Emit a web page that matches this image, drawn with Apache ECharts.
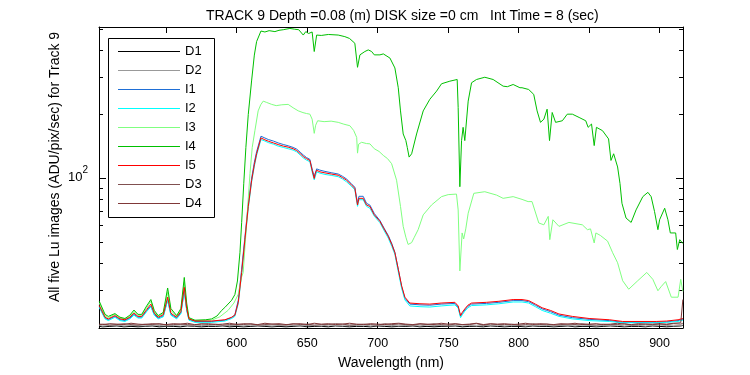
<!DOCTYPE html>
<html>
<head>
<meta charset="utf-8">
<script src="https://cdn.jsdelivr.net/npm/echarts@6/dist/echarts.min.js"></script>
<style>
html,body{margin:0;padding:0;background:#fff}
#main{width:750px;height:375px}
</style>
</head>
<body>
<div id="main"></div>
<script>
// axis ticks
const xTicks = [550, 600, 650, 700, 750, 800, 850, 900];
const yMinorTicks = [30, 40, 50, 60, 70, 80, 90, 200, 300, 400, 500];
const yMajorTicks = [100];

const seriesNames = ['D1', 'D2', 'I1', 'I2', 'I3', 'I4', 'I5', 'D3', 'D4'];
const seriesColors = ['#000000', '#999999', '#1f6fd6', '#00ffff', '#80ff80', '#00c000', '#ff0000', '#805050', '#803838'];

// dark frames share one wavelength grid
const dWl = [502.5, 505, 510, 515, 520, 525, 530, 535, 540, 545, 550,
  555, 560, 565, 570, 575, 580, 585, 590, 595, 600,
  605, 610, 615, 620, 625, 630, 635, 640, 645, 650,
  655, 660, 665, 670, 675, 680, 685, 690, 695, 700,
  705, 710, 715, 720, 725, 730, 735, 740, 745, 750,
  755, 760, 765, 770, 775, 780, 785, 790, 795, 800,
  805, 810, 815, 820, 825, 830, 835, 840, 845, 850,
  855, 860, 865, 870, 875, 880, 885, 890, 895, 900,
  905, 910, 915, 916.5];

const d1 = [20.2,20.1,20.2,20.3,20.1,20.2,20.1,20.2,20.3,20.1,
  20.2,20.2,20.1,20.3,20.2,20.1,20.2,20.2,20.3,20.1,
  20.2,20.1,20.2,20.3,20.2,20.1,20.2,20.1,20.2,20.3,
  20.1,20.2,20.2,20.1,20.3,20.2,20.1,20.2,20.2,20.1,
  20.3,20.2,20.1,20.2,20.2,20.3,20.1,20.2,20.1,20.2,
  20.2,20.3,20.1,20.2,20.2,20.1,20.3,20.2,20.1,20.2,
  20.2,20.1,20.3,20.2,20.2,20.1,20.2,20.3,20.1,20.2,
  20.2,20.1,20.2,20.3,20.2,20.1,20.2,20.2,20.1,20.3,
  20.2,20.1,20.2,20.3,20.4];
const d2 = [20.4,20.3,20.4,20.5,20.3,20.4,20.4,20.3,20.5,20.4,
  20.3,20.4,20.5,20.4,20.3,20.4,20.4,20.5,20.3,20.4,
  20.4,20.3,20.5,20.4,20.4,20.3,20.4,20.5,20.4,20.3,
  20.4,20.4,20.3,20.5,20.4,20.3,20.4,20.4,20.5,20.3,
  20.4,20.5,20.4,20.3,20.4,20.4,20.3,20.5,20.4,20.4,
  20.3,20.4,20.5,20.4,20.3,20.4,20.4,20.5,20.3,20.4,
  20.4,20.3,20.4,20.5,20.4,20.3,20.4,20.4,20.3,20.5,
  20.4,20.3,20.4,20.4,20.5,20.3,20.4,20.4,20.3,20.4,
  20.5,20.4,20.3,20.4,20.5];
const d3 = [20.6,20.7,20.5,20.6,20.8,20.6,20.5,20.7,20.6,20.8,
  20.5,20.6,20.7,20.6,20.5,20.8,20.6,20.7,20.5,20.6,
  20.7,20.6,20.8,20.5,20.6,20.7,20.6,20.5,20.8,20.6,
  20.7,20.5,20.6,20.6,20.8,20.7,20.5,20.6,20.7,20.6,
  20.5,20.8,20.6,20.7,20.6,20.5,20.7,20.6,20.8,20.6,
  20.5,20.7,20.6,20.6,20.8,20.5,20.7,20.6,20.6,20.7,
  20.5,20.6,20.8,20.6,20.7,20.5,20.6,20.7,20.6,20.8,
  20.6,20.5,20.7,20.6,20.6,20.8,20.5,20.6,20.7,20.6,
  20.7,20.6,20.8,20.7,20.9];
const d4 = [20.7,20.6,20.8,20.7,20.6,20.9,20.7,20.6,20.8,20.7,
  20.6,20.8,20.7,20.9,20.6,20.7,20.8,20.6,20.7,20.9,
  20.6,20.8,20.7,20.6,20.9,20.7,20.8,20.6,20.7,20.8,
  20.6,20.9,20.7,20.8,20.6,20.7,20.9,20.7,20.6,20.8,
  20.7,20.6,20.8,20.9,20.7,20.6,20.8,20.7,20.6,20.9,
  20.7,20.8,20.6,20.7,20.9,20.6,20.8,20.7,20.8,20.6,
  20.7,20.9,20.6,20.8,20.7,20.6,20.8,20.7,20.9,20.6,
  20.7,20.8,20.6,20.7,20.9,20.7,20.6,20.8,20.7,20.7,
  20.8,20.7,20.9,21.0,27.0];

// [wavelength nm, signal]
const i1 = [[502.5,25.0],[506.6,22.1],[508.9,21.7],[513.6,22.5],[517.2,21.7],[520.7,21.5],[524.2,22.1],[527.1,23.0],[530,22.3],[532.6,22.3],
  [536.1,23.9],[539.1,25.2],[541.5,23.0],[544.3,22.1],[547.9,22.6],[551,27.0],[553.3,23.0],[557.4,22.1],[560.4,23.4],[562.8,29.8],
  [564.5,24.2],[566.1,21.8],[570.4,21.3],[582.2,21.3],[591.6,21.6],[596.4,22.2],[598.7,22.9],[601.1,26.8],[603.5,37.5],[605.8,53],
  [608.2,76],[610.6,100.5],[612.5,119],[614.1,133.5],[617.2,158],[618.5,157.5],[620,155],[622.4,152.5],[626,150],[629.4,147],
  [633,144.5],[636.5,142.5],[640,140],[642.5,137.5],[645,133],[647.2,129],[649.5,125.5],[651.9,123],[653.5,111],[655,102],
  [656.7,111],[659,109.5],[662.6,108],[667,106.5],[672,105],[675,102.5],[677.9,99.5],[681,95],[683.8,91],[685.7,76.5],
  [686.7,82.5],[689.7,82.5],[692.1,76.5],[694.5,75],[697.6,68.5],[701.6,63.5],[704.5,58.5],[707.5,54],[710,49.5],[712.2,45],
  [714.6,37.5],[717,31],[719.3,27.4],[722.8,25.7],[730,25.5],[737,25.4],[745,25.7],[754.8,25.9],[757.1,24.9],[758.8,22.5],
  [760,23.2],[761.8,24.1],[764,25.1],[766.6,25.7],[777.2,25.9],[786,26.2],[796.1,26.7],[802.4,26.7],[807.1,26.4],[811.9,25.4],
  [816.7,24.4],[820,24.0],[822.6,23.7],[828.6,22.8],[838.1,22.2],[850,21.8],[864.3,21.5],[873.8,21.1],[897.6,21.1],[905,21.2],
  [913.1,21.5],[916.5,21.8]];
const i2 = [[502.5,24.8],[506.6,21.9],[508.9,21.5],[513.6,22.3],[517.2,21.5],[520.7,21.3],[524.2,21.9],[527.1,22.8],[530,22.1],[532.6,22.1],
  [536.1,23.7],[539.1,25.0],[541.5,22.8],[544.3,21.9],[547.9,22.4],[551,26.8],[553.3,22.8],[557.4,21.9],[560.4,23.2],[562.8,29.5],
  [564.5,24.0],[566.1,21.6],[570.4,21.1],[582.2,21.1],[591.6,21.4],[596.4,22.0],[598.7,22.5],[601.1,25.8],[603.5,35.5],[605.8,50.5],
  [608.2,72.5],[610.6,96.5],[612.5,114],[614.1,128.5],[617.2,152.5],[618.5,152],[620,150],[622.4,147.5],[626,145],[629.4,142],
  [633,140],[636.5,138],[640,136],[642.5,133.5],[645,129],[647.2,125],[649.5,122],[651.9,120],[653.5,107.5],[655,98.5],
  [656.7,107.5],[659,106],[662.6,104.5],[667,103.5],[672,102],[675,99.5],[677.9,96.5],[681,92.5],[683.8,88.5],[685.7,74],
  [686.7,79.5],[689.7,79.5],[692.1,74],[694.5,72.5],[697.6,66.5],[701.6,62],[704.5,57],[707.5,52.5],[710,48],[712.2,44],
  [714.6,36.5],[717,30.5],[719.3,26.9],[722.8,25.2],[730,25.0],[737,24.9],[745,25.2],[754.8,25.5],[757.1,24.6],[758.8,22.2],
  [760,22.9],[761.8,23.8],[764,24.7],[766.6,25.3],[777.2,25.5],[786,25.8],[796.1,26.3],[802.4,26.3],[807.1,26.0],[811.9,25.0],
  [816.7,24.0],[820,23.6],[822.6,23.3],[828.6,22.5],[838.1,21.9],[850,21.5],[864.3,21.3],[873.8,21.0],[897.6,21.0],[905,21.1],
  [913.1,21.3],[916.5,21.6]];
const i3 = [[502.5,26.0],[506.6,22.6],[508.9,22.2],[513.6,23.0],[517.2,22.1],[520.7,21.9],[524.2,22.5],[527.1,23.7],[530,22.8],[532.6,22.8],
  [536.1,24.7],[539.1,26.5],[541.5,23.6],[544.3,22.5],[547.9,23.2],[551,29.2],[553.3,24.0],[557.4,22.5],[560.4,24.1],[562.8,32.5],
  [564.5,25.0],[566.1,22.0],[570.4,21.5],[582.2,21.6],[588,22.4],[593.8,24.0],[598,26.0],[601.1,28.6],[603.5,34.5],[604.6,36.2],
  [607,61.8],[609.4,105.5],[611,140],[612.9,167.8],[615.2,207.8],[617,222],[618.8,231],[621,228],[624.8,223],[628,220],
  [632,222],[636.5,223],[640,215],[643.6,208],[647,204],[649.5,202],[651.9,200.6],[653.5,190],[655,163],[656,178],
  [657.4,186.8],[662,185],[667,186],[672,183.6],[676,180],[680.3,177],[683,168],[685.1,156],[685.7,131.6],[686.5,145],
  [688.6,148],[692,146],[694.5,145.5],[697.6,138],[701,134],[704,128.4],[707,124],[709.9,117.4],[713.4,98.2],[716.2,73.9],
  [718.1,59.6],[720,53],[721.6,49],[724.1,50],[726,53],[728.7,57.5],[732.3,67.5],[738.2,75.1],[745.3,82.2],[750,84],
  [755.9,84.5],[757.1,71.2],[758.3,36.8],[759.9,55.5],[761,52],[762.5,58],[764.2,68.7],[768.2,85.2],[776,86.7],[784.3,83.6],
  [789,80.7],[796.1,82.2],[802.4,79.8],[806.7,77.9],[809.5,77.9],[814.3,61.8],[817.9,60.6],[821,66.4],[822.1,51.6],[824.3,64],
  [828.6,59.6],[835.7,62.2],[845.2,60.6],[848.8,57.5],[851,58],[853.6,49.8],[854.8,55.5],[858,54],[863.1,50.8],[866.7,44.8],
  [870.2,40.2],[873.8,33.1],[878.1,30.2],[884.5,33.1],[890.9,36.2],[895.2,33.6],[898.8,29.7],[901,31],[904.3,32.8],[908.3,27.7],
  [913.1,27.7],[915,33.6],[916.5,29.5]];
const i4 = [[502.5,26.5],[506.6,23.0],[508.9,22.5],[513.6,23.2],[517.2,22.3],[520.7,22.0],[524.2,22.8],[527.1,24.1],[530,23.0],[532.6,23.0],
  [536.1,25.2],[539.1,27.0],[541.5,24.0],[544.3,22.7],[547.9,23.5],[551,30.6],[553.3,24.5],[557.4,22.7],[560.4,24.5],[562.8,34.3],
  [564.5,26.0],[566.1,22.2],[570.4,21.6],[578,21.7],[582.2,21.9],[586,22.6],[589.3,24.0],[591.6,24.8],[596.4,26.8],[598.7,28.5],
  [600.5,33],[602.3,45],[603.5,62],[605,95],[606.5,140],[608.2,200],[610.6,290],[612.5,380],[614.1,440],[617.2,493],
  [620,488],[623,495],[627.1,490],[630,497],[633,500],[637.7,507],[641,503],[644,500],[647.2,472],[649,490],
  [651,480],[653.5,488],[655,395],[656.7,472],[660,470],[665,475],[672,472],[676.7,464],[680,455],[683.8,432],
  [685.7,333],[687.4,381],[690.9,395],[693.3,402],[695.7,395],[697.6,381],[701.6,381],[704,385],[708.7,368],[712.2,330.7],
  [714.6,267],[716.2,207.8],[718.1,161.9],[720,150.7],[721,140],[722.3,126.1],[724.1,130.7],[727.6,161.9],[732.3,207.8],[737,235.6],
  [741.8,257.5],[745.3,278.7],[751.2,286.6],[756.4,291.9],[757.1,215.6],[758.3,91.5],[759.5,150.7],[760.6,174],[761.8,150.7],[764.2,231],
  [766.6,281.8],[770.1,291.9],[776,299],[781.9,291.9],[789,271.6],[792,270],[796.1,276.5],[800.9,267],[802.4,267],[807.1,262],
  [810.7,248.5],[813.1,207.8],[815.5,183.6],[817.9,190],[820.2,211.7],[821.9,150.7],[823.8,204.3],[826.2,183.6],[831,186.8],[834.5,200.6],
  [838.1,200.6],[842.9,193.6],[847.6,186.8],[849.3,174],[851.7,180.3],[853.6,142.8],[855.2,174],[859.5,167.8],[863.8,153.5],[865.5,121.6],
  [867.4,130.7],[870.2,113.3],[871.9,94.8],[873.3,76.5],[876.2,65.2],[879.8,62.2],[883.3,71.2],[888.1,82.2],[891.7,86.1],[894,82.2],
  [896.4,70],[898.8,57.5],[900,64],[903.6,72.5],[905.9,64],[907.6,55.5],[911.4,55.5],[912.6,46.4],[914.3,51.6],[916.5,49.5]];
const i5 = [[502.5,25.3],[506.6,22.3],[508.9,21.9],[513.6,22.7],[517.2,21.9],[520.7,21.7],[524.2,22.3],[527.1,23.3],[530,22.5],[532.6,22.5],
  [536.1,24.2],[539.1,25.7],[541.5,23.3],[544.3,22.3],[547.9,22.9],[551,27.7],[553.3,23.3],[557.4,22.3],[560.4,23.7],[562.8,30.8],
  [564.5,24.5],[566.1,21.9],[570.4,21.4],[582.2,21.4],[591.6,21.7],[596.4,22.3],[598.7,22.8],[601.1,26.2],[603.5,36.2],[605.8,51.6],
  [608.2,73.9],[610.6,98.2],[612.5,116],[614.1,130.7],[617.2,155.1],[618.5,154],[620,152],[622.4,149.7],[626,147],[629.4,144.4],
  [633,142],[636.5,140.4],[640,138],[642.5,135.4],[645,131],[647.2,126.9],[649.5,124],[651.9,121.6],[653.5,109.3],[655,100],
  [655.8,106],[656.7,109.3],[659,107.5],[662.6,106.3],[667,105],[672,103.6],[675,101],[677.9,98.2],[681,94],[683.8,89.8],
  [685.7,75.1],[686.7,80.7],[689.7,80.7],[692.1,75.1],[694.5,73.9],[697.6,67.5],[701.6,62.9],[704.5,58],[707.5,53.5],[710,49],
  [712.2,44.8],[714.6,37.5],[717,31.3],[719.3,27.7],[722.8,26.0],[730,25.8],[737,25.7],[745,26.0],[754.8,26.2],[757.1,25.2],
  [758.8,22.7],[760,23.5],[761.8,24.4],[764,25.4],[766.6,26.0],[777.2,26.2],[786,26.5],[796.1,27.0],[802.4,27.0],[807.1,26.7],
  [811.9,25.7],[816.7,24.7],[820,24.3],[822.6,24.0],[828.6,23.1],[838.1,22.5],[850,22.0],[864.3,21.7],[873.8,21.3],[897.6,21.3],
  [905,21.4],[913.1,21.7],[916.5,22.0]];

const zip = (xs, ys) => xs.map((x, i) => [x, ys[i]]);
const seriesData = [zip(dWl, d1), zip(dWl, d2), i1, i2, i3, i4, i5, zip(dWl, d3), zip(dWl, d4)];

const xMin = 502.3, xMax = 916.6;
const yMin = 19.85, yMax = 515;
const font = "'Liberation Sans', Arial, sans-serif";

function xAx(pos, withLabels) {
  return {
    type: 'value', position: pos, min: xMin, max: xMax,
    axisLine: { show: true, onZero: false, lineStyle: { color: '#000', width: 1 } },
    axisTick: { show: true, inside: true, length: 6, customValues: xTicks, lineStyle: { color: '#000' } },
    axisLabel: withLabels ? { show: true, customValues: xTicks, color: '#000', fontSize: 12.5, fontFamily: font, margin: 9 } : { show: false },
    splitLine: { show: false },
    name: withLabels ? 'Wavelength (nm)' : '',
    nameLocation: 'middle', nameGap: 28,
    nameTextStyle: { color: '#000', fontSize: 14, fontFamily: font }
  };
}

function yAx(pos, ticks, len, line, labels) {
  return {
    type: 'log', logBase: 10, position: pos, min: yMin, max: yMax,
    axisLine: { show: line, onZero: false, lineStyle: { color: '#000', width: 1 } },
    axisTick: { show: true, inside: true, length: len, customValues: ticks, lineStyle: { color: '#000' } },
    axisLabel: labels ? {
      show: true, customValues: yMajorTicks, margin: 11,
      formatter: () => '{a|10}{b|2}',
      rich: {
        a: { fontSize: 13, color: '#000', fontFamily: font, padding: [0, 0, 3, 0] },
        b: { fontSize: 10, color: '#000', fontFamily: font, padding: [0, 0, 16, 0] }
      }
    } : { show: false },
    splitLine: { show: false },
    minorSplitLine: { show: false }
  };
}

const chart = echarts.init(document.getElementById('main'));
chart.setOption({
  animation: false,
  backgroundColor: '#fff',
  textStyle: { fontFamily: font },
  title: {
    text: 'TRACK 9 Depth =0.08 (m) DISK size =0 cm   Int Time = 8 (sec)',
    left: 201, top: 4,
    textStyle: { fontSize: 14, fontWeight: 'normal', color: '#000', fontFamily: font }
  },
  grid: { left: 99, right: 67, top: 27, bottom: 44, containLabel: false },
  xAxis: [xAx('bottom', true), xAx('top', false)],
  yAxis: [
    yAx('left', yMinorTicks, 4, true, true),
    yAx('left', yMajorTicks, 7, false, false),
    yAx('right', yMinorTicks, 4, true, false),
    yAx('right', yMajorTicks, 7, false, false)
  ],
  legend: {
    orient: 'vertical', left: 118, top: 44.5,
    padding: 0, z: 6,
    icon: 'rect',
    itemWidth: 62, itemHeight: 1, itemGap: 5,
    itemStyle: { borderWidth: 0, opacity: 1 },
    selectedMode: false,
    textStyle: { color: '#000', fontSize: 13, lineHeight: 14, fontFamily: font },
    data: seriesNames.map((n, k) => ({ name: n, itemStyle: { color: seriesColors[k], borderWidth: 0 } }))
  },
  graphic: [{
    type: 'rect', z: 5,
    shape: { x: 108.5, y: 38.5, width: 106, height: 179 },
    style: { fill: '#fff', stroke: '#000', lineWidth: 1 }
  }, {
    type: 'text', x: 55, y: 167, rotation: Math.PI / 2,
    style: { text: 'All five Lu images (ADU/pix/sec) for Track 9', fill: '#000', font: '14px ' + font, align: 'center', verticalAlign: 'middle' }
  }],
  series: seriesNames.map((n, k) => ({
    name: n, type: 'line', data: seriesData[k],
    xAxisIndex: 0, yAxisIndex: 0,
    symbol: 'none', showSymbol: false,
    color: seriesColors[k],
    itemStyle: { color: seriesColors[k] },
    lineStyle: { color: seriesColors[k], width: 1 },
    clip: true
  }))
});
</script>
</body>
</html>
